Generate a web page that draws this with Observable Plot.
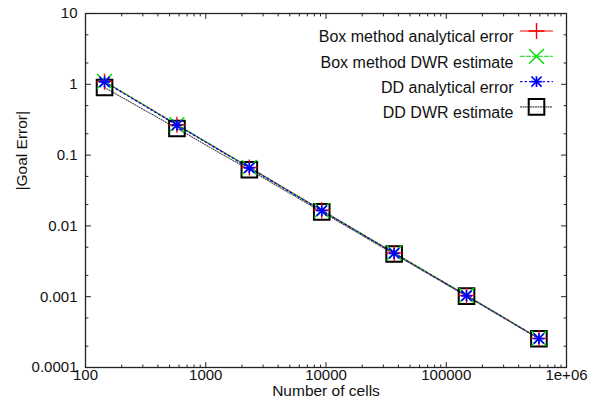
<!DOCTYPE html>
<html><head><meta charset="utf-8">
<script src="https://cdn.jsdelivr.net/npm/d3@7"></script>
<script src="https://cdn.jsdelivr.net/npm/@observablehq/plot@0.6"></script>
<style>
html,body{margin:0;padding:0;background:#fff;overflow:hidden}
svg{font-family:"Liberation Sans",Arial,Helvetica,sans-serif}
</style>
</head><body><div id="chart"></div>
<script>
// ---- data ----
const cells = [144, 576, 2304, 9216, 36864, 147456, 589824];
const boxAnalytical = [1.09, 0.268, 0.0668, 0.0166, 0.00415, 0.00104, 0.000258];
const boxDWR        = [1.10, 0.270, 0.0670, 0.0166, 0.00416, 0.00104, 0.000258];
const ddAnalytical  = [1.08, 0.265, 0.0660, 0.0164, 0.00410, 0.00103, 0.000256];
const ddDWR         = [0.90, 0.238, 0.0620, 0.0158, 0.00400, 0.00102, 0.000255];
const seriesNames = ["Box method analytical error", "Box method DWR estimate", "DD analytical error", "DD DWR estimate"];

const xTicks = [100, 1000, 10000, 100000, 1000000];
const xTickLabels = ["100", "1000", "10000", "100000", "1e+06"];
const yTicks = [1e-4, 1e-3, 1e-2, 1e-1, 1, 10];
const yTickLabels = ["0.0001", "0.001", "0.01", "0.1", "1", "10"];
const xMinorMult = [2, 3, 4, 5, 6, 7, 8, 9];
const yMinorMult = [2, 5];

const xMinor = xTicks.slice(0, -1).flatMap(d => xMinorMult.map(m => d * m));
const yMinor = yTicks.slice(0, -1).flatMap(d => yMinorMult.map(m => d * m));

const allSeries = [boxAnalytical, boxDWR, ddAnalytical, ddDWR];
const table = allSeries.flatMap((vals, s) => cells.map((c, i) => ({series: seriesNames[s], cells: c, err: vals[i]})));
const pick = name => table.filter(d => d.series === name);

// ---- styles ----
const styles = [
  {stroke: "#ff0000", dash: null, width: 1.1},
  {stroke: "#00dd00", dash: "4,2", width: 1.1},
  {stroke: "#0000ff", dash: "1.5,3", width: 1.3},
  {stroke: "#444444", dash: "1,1.5", width: 1.1}
];

const lineShape = {draw(ctx, l) { ctx.moveTo(0, 0); ctx.lineTo(0, -l); }};
const frameColor = "#222";

function tickMarks(data, axis, side, len) {
  const o = {length: len, shape: lineShape, anchor: "start", stroke: frameColor, strokeWidth: 1};
  if (axis === "x") return Plot.vector(data, {...o, x: d => d, frameAnchor: side, rotate: side === "bottom" ? 0 : 180});
  return Plot.vector(data, {...o, y: d => d, frameAnchor: side, rotate: side === "left" ? 90 : -90});
}

function markers(data, k, extra = {}) {
  const base = {x: "cells", y: "err", fill: "none", ...extra};
  if (k === 0) return [Plot.dot(data, {...base, symbol: "plus", r: 5.2, stroke: "#ff0000", strokeWidth: 1.4})];
  if (k === 1) return [Plot.dot(data, {...base, symbol: "times", r: 6.8, stroke: "#00dd00", strokeWidth: 1.4})];
  if (k === 2) return [
    Plot.dot(data, {...base, symbol: "plus", r: 3.6, stroke: "#0000ff", strokeWidth: 1.7}),
    Plot.dot(data, {...base, symbol: "times", r: 4.7, stroke: "#0000ff", strokeWidth: 1.7})
  ];
  return [Plot.dot(data, {...base, symbol: "square", r: 8.8, stroke: "#000", strokeWidth: 2})];
}

const marks = [];
// series lines
seriesNames.forEach((name, k) => {
  const st = styles[k];
  marks.push(Plot.line(pick(name), {x: "cells", y: "err", stroke: st.stroke, strokeWidth: st.width, strokeDasharray: st.dash}));
});
// markers (squares first so others sit on top)
[3, 1, 0, 2].forEach(k => marks.push(...markers(pick(seriesNames[k]), k)));

// frame and ticks
marks.push(Plot.frame({stroke: frameColor, strokeWidth: 1.3}));
marks.push(tickMarks(xTicks, "x", "bottom", 5), tickMarks(xTicks, "x", "top", 5));
marks.push(tickMarks(xMinor, "x", "bottom", 2.5), tickMarks(xMinor, "x", "top", 2.5));
marks.push(tickMarks(yTicks, "y", "left", 5), tickMarks(yTicks, "y", "right", 5));
marks.push(tickMarks(yMinor, "y", "left", 2.5), tickMarks(yMinor, "y", "right", 2.5));

// tick labels
marks.push(Plot.text(xTicks, {x: d => d, text: (d, i) => xTickLabels[i], frameAnchor: "bottom", dy: 12.5, fontSize: 15, fill: "#111"}));
marks.push(Plot.text(yTicks, {y: d => d, text: (d, i) => yTickLabels[i], frameAnchor: "left", dx: -8, textAnchor: "end", fontSize: 15, fill: "#111"}));

// axis titles
marks.push(Plot.text(["Number of cells"], {frameAnchor: "bottom", dy: 28.5, fontSize: 15.5, fill: "#111"}));
marks.push(Plot.text(["|Goal Error|"], {frameAnchor: "left", dx: -63, rotate: -90, fontSize: 15.5, fill: "#111"}));

// legend (inside top-right)
seriesNames.forEach((name, k) => {
  const dy = 17.5 + k * 25.3;
  const st = styles[k];
  marks.push(Plot.text([name], {frameAnchor: "top-right", dx: -53, dy, textAnchor: "end", fontSize: 16, fill: "#111"}));
  marks.push(Plot.vector([name], {frameAnchor: "top-right", dx: -46, dy, rotate: 90, length: 32, anchor: "start", shape: lineShape,
    stroke: st.stroke, strokeWidth: st.width, strokeDasharray: st.dash}));
  markers([name], k, {x: null, y: null, frameAnchor: "top-right", dx: -30, dy}).forEach(m => marks.push(m));
});

const chart = Plot.plot({
  width: 589,
  height: 408,
  marginLeft: 85,
  marginRight: 23,
  marginTop: 13,
  marginBottom: 41,
  x: {type: "log", domain: [100, 1e6], axis: null},
  y: {type: "log", domain: [1e-4, 10], axis: null},
  style: {background: "#fff", fontFamily: "Liberation Sans, Arial, sans-serif"},
  marks
});
document.getElementById("chart").appendChild(chart);
</script>
</body></html>
